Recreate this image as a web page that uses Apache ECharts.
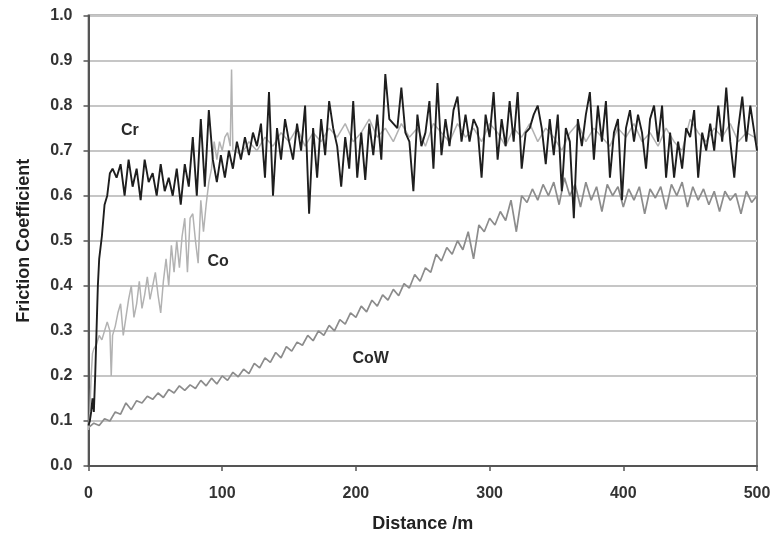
<!DOCTYPE html>
<html>
<head>
<meta charset="utf-8">
<script src="https://cdn.jsdelivr.net/npm/echarts@6/dist/echarts.min.js"></script>
<style>
html,body{margin:0;padding:0;background:#fff;}
#chart{width:776px;height:540px;}
</style>
</head>
<body>
<div id="chart"></div>
<script>
// ---- data ----
function sampleGrid(start, end, step){ const a=[]; for(let d=start; d<=end+1e-9; d+=step) a.push(d); return a; }

const yTicks = [0,0.1,0.2,0.3,0.4,0.5,0.6,0.7,0.8,0.9,1.0];
const xTicks = [0,100,200,300,400,500];

// Cr (dark)
const crDist = [0,1,2,3,4,5,6,7,8,10,12,14,16].concat(sampleGrid(18,498,3)).concat([500]);
const crVal = [
  0.09,0.10,0.12,0.15,0.12,0.20,0.30,0.40,0.46,0.51,0.58,0.60,0.65,
  0.66,0.64,0.67,0.60,0.68,0.62,0.66,0.59,0.68,0.63,0.65,0.60,0.67,0.61,0.64,
  0.60,0.66,0.58,0.67,0.62,0.73,0.60,0.77,0.62,0.79,
  0.68,0.63,0.69,0.64,0.70,0.66,0.72,0.68,0.73,0.69,
  0.74,0.71,0.76,0.64,0.83,0.60,0.75,0.68,0.77,0.72,
  0.68,0.76,0.70,0.80,0.56,0.75,0.64,0.77,0.69,0.81,
  0.75,0.71,0.62,0.73,0.66,0.81,0.64,0.74,0.635,0.76,
  0.69,0.78,0.68,0.87,0.77,0.76,0.75,0.84,0.74,0.72,
  0.61,0.78,0.71,0.74,0.81,0.66,0.85,0.69,0.77,0.71,
  0.79,0.82,0.72,0.78,0.72,0.77,0.75,0.64,0.78,0.73,
  0.83,0.68,0.77,0.71,0.81,0.72,0.83,0.66,0.74,0.75,
  0.78,0.80,0.75,0.67,0.77,0.69,0.78,0.61,0.75,0.72,
  0.55,0.77,0.71,0.78,0.83,0.68,0.80,0.72,0.81,0.64,
  0.74,0.77,0.59,0.75,0.79,0.72,0.78,0.74,0.66,0.77,
  0.80,0.72,0.80,0.64,0.74,0.64,0.72,0.66,0.75,0.73,
  0.79,0.64,0.74,0.70,0.76,0.70,0.80,0.72,0.84,0.72,
  0.64,0.75,0.82,0.72,0.80,0.74,
  0.70
];

// Co (light grey)
const coDist = [0,1,2,3,4,6,8,10,12,14,16,17]
  .concat(sampleGrid(18,106,2)).concat([107,108,110])
  .concat(sampleGrid(114,498,6)).concat([500]);
const coVal = [
  0.08,0.12,0.20,0.25,0.26,0.27,0.29,0.28,0.30,0.32,0.30,0.20,
  0.29,0.31,0.34,0.36,0.29,0.33,0.37,0.40,0.33,0.36,
  0.41,0.35,0.38,0.42,0.37,0.40,0.43,0.38,0.34,0.41,
  0.46,0.40,0.49,0.43,0.50,0.44,0.51,0.55,0.43,0.55,
  0.56,0.50,0.45,0.59,0.52,0.58,0.63,0.66,0.72,0.68,
  0.72,0.70,0.73,0.74,0.71,
  0.88,0.70,0.70,
  0.69,0.72,0.70,0.73,0.71,0.74,0.72,0.75,0.71,0.74,
  0.72,0.75,0.73,0.76,0.72,0.74,0.77,0.73,0.75,0.72,
  0.76,0.73,0.75,0.71,0.76,0.74,0.72,0.76,0.73,0.75,
  0.72,0.76,0.74,0.71,0.75,0.73,0.76,0.72,0.75,0.73,
  0.70,0.74,0.76,0.72,0.75,0.73,0.71,0.75,0.73,0.76,
  0.72,0.74,0.71,0.75,0.72,0.70,0.77,0.74,0.72,0.75,
  0.73,0.76,0.72,0.74,0.73,
  0.71
];

// CoW (mid grey)
const cowDist = sampleGrid(0,500,4);
const cowVal = [
  0.085,0.095,0.09,0.105,0.10,0.12,0.115,0.14,0.125,0.145,
  0.14,0.155,0.148,0.162,0.152,0.17,0.162,0.178,0.168,0.18,
  0.172,0.19,0.178,0.195,0.182,0.20,0.19,0.208,0.198,0.215,
  0.205,0.228,0.218,0.24,0.23,0.252,0.24,0.265,0.255,0.275,
  0.268,0.29,0.278,0.30,0.29,0.312,0.30,0.325,0.315,0.34,
  0.33,0.355,0.342,0.368,0.355,0.38,0.368,0.392,0.378,0.405,
  0.395,0.425,0.41,0.44,0.43,0.47,0.455,0.485,0.47,0.50,
  0.48,0.52,0.46,0.535,0.52,0.55,0.535,0.565,0.545,0.59,
  0.52,0.60,0.585,0.615,0.59,0.625,0.60,0.63,0.58,0.64,
  0.60,0.625,0.575,0.63,0.59,0.62,0.565,0.625,0.60,0.62,
  0.575,0.615,0.59,0.62,0.56,0.615,0.595,0.62,0.57,0.625,
  0.60,0.63,0.575,0.62,0.59,0.615,0.58,0.61,0.565,0.61,
  0.59,0.605,0.56,0.61,0.585,0.60
];

const labelNames = ['Cr','Co','CoW'];
const labelAt = [[31,0.744],[97,0.453],[211,0.238]];

// ---- chart ----
function zip(xs, ys){ return xs.map((x,i)=>[x, ys[i]]); }
const FONT = "'Liberation Sans', Arial, sans-serif";
function tag(i){
  return {
    symbol:'circle', symbolSize:0, silent:true,
    label:{show:true, position:'inside', formatter:labelNames[i], color:'#2a2a2a', fontSize:16, fontWeight:'bold', fontFamily:FONT},
    data:[{coord:labelAt[i]}]
  };
}

const chart = echarts.init(document.getElementById('chart'), null, {renderer:'canvas'});
chart.setOption({
  animation:false,
  backgroundColor:'#fff',
  grid:{left:88.5, right:19, top:15.5, bottom:74, show:true, borderColor:'#7a7a7a', borderWidth:1.8, backgroundColor:'transparent'},
  xAxis:{
    type:'value', min:xTicks[0], max:xTicks[xTicks.length-1], interval:100,
    name:'Distance /m', nameLocation:'middle', nameGap:49,
    nameTextStyle:{fontSize:18, fontWeight:'bold', color:'#222', fontFamily:FONT},
    axisLine:{show:true, onZero:false, lineStyle:{color:'#555', width:2}},
    axisTick:{show:true, length:5, lineStyle:{color:'#555', width:1.5}},
    axisLabel:{fontSize:16, fontWeight:'bold', color:'#333', margin:20, fontFamily:FONT},
    splitLine:{show:false}
  },
  yAxis:{
    type:'value', min:yTicks[0], max:yTicks[yTicks.length-1], interval:0.1,
    name:'Friction Coefficient', nameLocation:'middle', nameGap:55,
    nameTextStyle:{fontSize:18, fontWeight:'bold', color:'#222', fontFamily:FONT},
    axisLine:{show:true, lineStyle:{color:'#555', width:2}},
    axisTick:{show:true, length:5, lineStyle:{color:'#555', width:1.5}},
    axisLabel:{fontSize:16, fontWeight:'bold', color:'#333', margin:16, fontFamily:FONT, formatter:v=>v.toFixed(1)},
    splitLine:{show:true, lineStyle:{color:'#c6c6c6', width:1.8}}
  },
  series:[
    {name:'CoW', type:'line', data:zip(cowDist,cowVal), showSymbol:false, symbol:'none',
     lineStyle:{color:'#8c8c8c', width:1.7}, z:2, markPoint:tag(2)},
    {name:'Co', type:'line', data:zip(coDist,coVal), showSymbol:false, symbol:'none',
     lineStyle:{color:'#b2b2b2', width:1.5}, z:3, markPoint:tag(1)},
    {name:'Cr', type:'line', data:zip(crDist,crVal), showSymbol:false, symbol:'none',
     lineStyle:{color:'#1e1e1e', width:1.9}, z:4, markPoint:tag(0)}
  ]
});
</script>
</body>
</html>
